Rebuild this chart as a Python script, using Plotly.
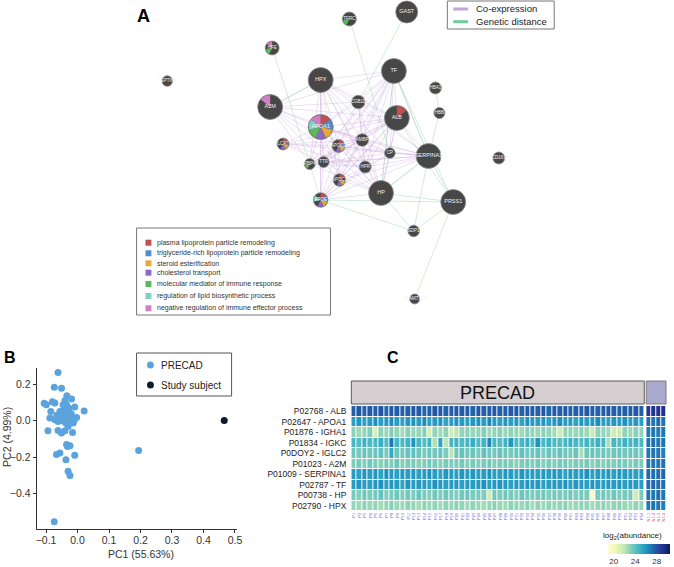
import math
import plotly.graph_objects as go

W, H = 674, 567
FONT = "Liberation Sans, Arial, sans-serif"

def fx(x):
    return x / W

def fy(y):
    return 1 - y / H

# ---------------- Panel A: network ----------------
node_names = ["GAST", "TFRC", "HFE", "SEPTIN9", "HPX", "TF", "HBA1", "HBB", "A2M", "SCGB1D1",
              "ALB", "APOA1", "LCAT", "APOC3", "AMBP", "CP", "SERPINA1", "RBP4", "TTR", "HPR",
              "APOC1", "HP", "APOE", "PRSS1", "CD163", "SDP1", "ADAMTS13"]
node_x = [410, 352, 274, 168, 323, 397, 439, 443, 272, 361,
          400, 323, 285, 341, 365, 393, 432, 312, 326, 368,
          342, 384, 323, 457, 503, 417, 418]
node_y = [12, 19, 48, 81, 80, 71, 88, 113, 107, 102,
          118, 127, 144, 146, 140, 153, 156, 164, 162, 167,
          180, 193, 200, 202, 158, 231, 299]
node_r = [11, 7, 7, 5.3, 12.5, 12.5, 6, 5.5, 12.5, 6.7,
          12.5, 12.5, 6, 6.5, 6.3, 5.3, 12.5, 5.5, 5.5, 6,
          6.3, 12.5, 7.3, 12.5, 6, 5.8, 5]
node_funcs = [[], [4], [4, 6], [], [], [], [], [], [6], [],
              [0], [0, 1, 2, 3, 4, 5, 6], [0, 2, 3], [0, 1, 2, 3], [], [], [], [4], [], [],
              [0, 2, 3], [], [0, 1, 2, 3, 5], [], [], [], []]

go_terms = ["plasma lipoprotein particle remodeling",
            "triglyceride-rich lipoprotein particle remodeling",
            "steroid esterification",
            "cholesterol transport",
            "molecular mediator of immune response",
            "regulation of lipid biosynthetic process",
            "negative regulation of immune effector process"]
go_colors = ["#c0504d", "#4f8fcf", "#e8a838", "#8c6bbf", "#5cb85c", "#7fd1c7", "#d17fc2"]

coexp_edges = [
    ("APOA1", "HPX"), ("APOA1", "TF"), ("APOA1", "ALB"), ("APOA1", "A2M"), ("APOA1", "SCGB1D1"),
    ("APOA1", "LCAT"), ("APOA1", "APOC3"), ("APOA1", "AMBP"), ("APOA1", "CP"), ("APOA1", "SERPINA1"),
    ("APOA1", "RBP4"), ("APOA1", "TTR"), ("APOA1", "HPR"), ("APOA1", "APOC1"), ("APOA1", "HP"), ("APOA1", "APOE"),
    ("HPX", "TF"), ("HPX", "ALB"), ("HPX", "A2M"), ("HPX", "SCGB1D1"), ("HPX", "APOC3"), ("HPX", "AMBP"),
    ("HPX", "CP"), ("HPX", "SERPINA1"), ("HPX", "RBP4"), ("HPX", "TTR"), ("HPX", "HPR"), ("HPX", "APOC1"),
    ("HPX", "HP"), ("HPX", "APOE"),
    ("TF", "ALB"), ("TF", "SCGB1D1"), ("TF", "APOC3"), ("TF", "AMBP"), ("TF", "CP"), ("TF", "SERPINA1"),
    ("TF", "RBP4"), ("TF", "TTR"), ("TF", "HPR"), ("TF", "APOC1"), ("TF", "HP"), ("TF", "APOE"), ("TF", "A2M"),
    ("ALB", "SCGB1D1"), ("ALB", "APOC3"), ("ALB", "AMBP"), ("ALB", "CP"), ("ALB", "SERPINA1"), ("ALB", "RBP4"),
    ("ALB", "TTR"), ("ALB", "HPR"), ("ALB", "APOC1"), ("ALB", "HP"), ("ALB", "APOE"), ("ALB", "LCAT"), ("ALB", "A2M"),
    ("A2M", "APOC3"), ("A2M", "AMBP"), ("A2M", "RBP4"), ("A2M", "TTR"), ("A2M", "HP"), ("A2M", "SCGB1D1"),
    ("SCGB1D1", "AMBP"), ("SCGB1D1", "APOC3"), ("SCGB1D1", "HPR"), ("SCGB1D1", "SERPINA1"), ("SCGB1D1", "HP"),
    ("SCGB1D1", "TTR"),
    ("LCAT", "APOC3"), ("LCAT", "TTR"), ("LCAT", "HPR"), ("LCAT", "SERPINA1"), ("LCAT", "AMBP"),
    ("APOC3", "AMBP"), ("APOC3", "CP"), ("APOC3", "SERPINA1"), ("APOC3", "HPR"), ("APOC3", "APOC1"),
    ("APOC3", "HP"), ("APOC3", "APOE"), ("APOC3", "TTR"), ("APOC3", "RBP4"),
    ("AMBP", "CP"), ("AMBP", "SERPINA1"), ("AMBP", "HPR"), ("AMBP", "HP"), ("AMBP", "TTR"), ("AMBP", "RBP4"),
    ("AMBP", "APOC1"), ("AMBP", "APOE"),
    ("CP", "SERPINA1"), ("CP", "HPR"), ("CP", "HP"), ("CP", "TTR"), ("CP", "APOE"),
    ("SERPINA1", "HPR"), ("SERPINA1", "HP"), ("SERPINA1", "TTR"), ("SERPINA1", "RBP4"), ("SERPINA1", "APOC1"),
    ("SERPINA1", "APOE"),
    ("RBP4", "TTR"), ("RBP4", "HPR"), ("RBP4", "APOE"), ("RBP4", "HP"),
    ("TTR", "HPR"), ("TTR", "APOC1"), ("TTR", "HP"), ("TTR", "APOE"),
    ("HPR", "HP"), ("HPR", "APOC1"), ("HPR", "APOE"),
    ("APOC1", "HP"), ("APOC1", "APOE"), ("HP", "APOE"),
]
genetic_edges = [
    ("TFRC", "CP"), ("GAST", "SCGB1D1"), ("HFE", "RBP4"), ("HBA1", "HBB"), ("HBB", "SERPINA1"),
    ("SERPINA1", "SDP1"), ("SERPINA1", "PRSS1"), ("HP", "PRSS1"), ("APOE", "PRSS1"), ("APOE", "SDP1"),
    ("HP", "SDP1"), ("PRSS1", "SDP1"), ("PRSS1", "ADAMTS13"), ("TF", "SERPINA1"), ("ALB", "PRSS1"),
    ("TF", "PRSS1"), ("HP", "SERPINA1"), ("A2M", "HPX"), ("TF", "HP"),
]
edge_legend = ["Co-expression", "Genetic distance"]
edge_colors = ["rgba(190,150,212,0.32)", "rgba(140,210,160,0.45)"]

# ---------------- Panel B: PCA ----------------
pc1_precad = [-0.062, -0.074, -0.051, -0.034, -0.019, -0.040, -0.046, -0.035, -0.009, 0.021,
              -0.085, -0.056, -0.072, -0.099, -0.088, -0.072, -0.060, -0.046, -0.035, -0.024,
              -0.030, -0.051, -0.038, -0.019, -0.003, -0.062, -0.014, -0.094, -0.062, -0.051,
              -0.040, -0.016, -0.030, -0.035, -0.024, -0.032, -0.056, -0.067, -0.009, -0.037,
              -0.030, -0.024, -0.074, 0.194, -0.080, -0.043, -0.027, -0.053, -0.020, -0.066,
              -0.041, -0.011, -0.106, -0.028]
pc2_precad = [0.265, 0.184, 0.179, 0.137, 0.119, 0.111, 0.088, 0.088, 0.075, 0.053,
              0.051, 0.051, 0.097, 0.088, 0.015, 0.005, 0.024, 0.033, 0.042, 0.027,
              0.005, 0.002, -0.013, 0.009, 0.018, -0.004, -0.013, -0.055, -0.053, -0.067,
              -0.055, -0.064, -0.031, -0.131, -0.137, -0.141, -0.177, -0.186, -0.190, -0.214,
              -0.277, -0.301, -0.555, -0.164, 0.105, 0.062, 0.047, 0.020, 0.038, 0.030,
              0.010, 0.002, 0.096, 0.070]
pc1_subject = [0.466]
pc2_subject = [0.002]
pca_groups = ["PRECAD", "Study subject"]
pca_colors = ["#5ba3dc", "#0f1c30"]
pc1_ticks = [-0.1, 0.0, 0.1, 0.2, 0.3, 0.4, 0.5]
pc2_ticks = [-0.4, -0.2, 0.0, 0.2]

# ---------------- Panel C: heatmap ----------------
row_labels = ["P02768 - ALB", "P02647 - APOA1", "P01876 - IGHA1", "P01834 - IGKC", "P0DOY2 - IGLC2",
              "P01023 - A2M", "P01009 - SERPINA1", "P02787 - TF", "P00738 - HP", "P02790 - HPX"]
precad_labels = [f"P{i}" for i in range(1, 55)]
subject_labels = ["N1-1", "N1-2", "N1-3", "N1-4"]

z_alb = [27.6, 27.8, 27.5, 27.7, 27.6, 27.9, 27.4, 27.8, 27.7,
         27.5, 27.6, 27.8, 27.7, 27.4, 27.6, 27.9, 27.7, 27.5,
         27.6, 27.8, 27.7, 27.6, 27.5, 27.8, 27.6, 27.7, 27.9,
         27.5, 27.6, 27.7, 27.8, 27.5, 27.6, 27.7, 27.6, 27.8,
         27.4, 27.7, 27.6, 27.8, 27.5, 27.7, 27.6, 27.9, 27.6,
         27.5, 27.7, 27.8, 27.6, 27.5, 27.7, 27.6, 27.8, 27.6]
z_apoa1 = [25.7, 26.0, 25.5, 25.8, 26.2, 25.6, 25.9, 26.3, 25.7,
           25.5, 25.9, 26.1, 25.7, 26.4, 25.6, 25.8, 26.0, 25.4,
           25.7, 26.1, 25.8, 25.6, 25.9, 26.2, 25.7, 26.5, 25.8,
           25.6, 26.0, 25.7, 25.9, 25.5, 26.1, 25.8, 25.7, 26.0,
           25.6, 25.9, 26.2, 25.7, 25.8, 25.5, 26.0, 25.7, 25.9,
           26.3, 25.7, 25.6, 25.9, 25.8, 26.1, 25.7, 25.9, 25.6]
z_igha1 = [23.1, 22.7, 22.9, 23.2, 21.2, 23.0, 22.8, 23.3, 22.9,
           22.6, 23.1, 22.9, 22.8, 23.2, 21.4, 22.9, 22.7, 23.0,
           21.5, 22.1, 22.9, 23.1, 22.8, 23.0, 23.2, 22.7, 22.9,
           23.1, 22.8, 23.0, 22.9, 22.7, 23.2, 22.9, 22.8, 23.1,
           22.9, 22.7, 21.6, 23.0, 22.9, 22.8, 23.1, 22.7, 21.8,
           23.0, 22.9, 22.7, 21.5, 21.7, 23.0, 22.8, 23.1, 22.9]
z_igkc = [24.7, 24.3, 24.9, 24.5, 24.6, 25.1, 24.4, 26.9, 24.7,
          24.5, 24.9, 26.1, 24.6, 24.3, 24.8, 22.3, 25.5, 22.1,
          24.6, 24.9, 24.4, 24.7, 25.1, 24.5, 24.8, 26.5, 24.6,
          24.3, 24.9, 25.9, 24.5, 24.7, 25.1, 24.4, 26.1, 24.6,
          24.9, 24.5, 24.3, 24.7, 25.0, 24.6, 24.4, 24.8, 24.5,
          24.9, 24.6, 22.5, 24.7, 24.4, 24.9, 24.6, 24.8, 24.5]
z_iglc2 = [23.7, 23.5, 23.9, 23.6, 23.8, 24.0, 23.5, 25.2, 23.7,
           23.6, 23.9, 24.1, 23.7, 23.5, 23.8, 23.6, 23.9, 23.4,
           22.1, 23.7, 23.9, 23.6, 23.8, 23.5, 24.0, 23.7, 23.6,
           23.9, 23.7, 23.5, 23.8, 24.0, 23.6, 23.7, 23.9, 23.5,
           23.8, 23.6, 23.9, 23.7, 23.5, 23.8, 22.4, 23.7, 23.9,
           23.6, 23.8, 23.5, 23.7, 23.9, 23.6, 23.8, 23.7, 23.5]
z_a2m = [23.3, 23.5, 23.2, 23.6, 23.4, 23.1, 23.5, 23.3, 23.7,
         23.2, 23.4, 23.5, 23.1, 23.3, 23.6, 23.4, 23.2, 23.5,
         23.3, 23.4, 23.6, 23.2, 23.5, 23.3, 23.4, 23.7, 23.2,
         23.4, 23.5, 23.3, 23.1, 23.4, 23.6, 23.3, 23.5, 23.2,
         23.4, 23.3, 23.5, 23.6, 23.2, 23.4, 23.3, 23.5, 23.1,
         23.4, 23.2, 23.5, 23.3, 23.6, 23.4, 23.2, 23.5, 23.3]
z_serpina1 = [25.8, 25.6, 26.0, 25.7, 25.9, 25.5, 26.1, 25.8, 25.6,
              25.9, 25.7, 26.0, 25.6, 25.8, 26.2, 25.7, 25.5, 25.9,
              25.8, 25.6, 26.0, 25.7, 25.9, 25.6, 25.8, 26.1, 25.7,
              25.6, 25.9, 25.8, 25.5, 26.0, 25.7, 25.8, 25.6, 25.9,
              25.7, 26.0, 25.8, 25.6, 25.9, 25.7, 25.8, 26.1, 25.6,
              25.8, 25.7, 25.9, 25.6, 26.0, 25.8, 25.7, 25.6, 25.9]
z_tf = [25.7, 26.0, 25.8, 25.6, 25.9, 26.1, 25.7, 25.9, 25.8,
        25.5, 26.0, 25.7, 25.9, 25.8, 25.6, 26.1, 25.9, 25.7,
        25.8, 26.0, 25.6, 25.9, 25.7, 25.8, 26.1, 25.7, 25.9,
        26.0, 25.8, 25.6, 25.9, 25.7, 26.0, 25.8, 25.9, 25.6,
        25.7, 25.9, 25.8, 26.1, 25.7, 25.9, 25.8, 25.6, 26.0,
        25.8, 25.7, 25.9, 25.8, 26.0, 25.7, 25.9, 25.8, 25.7]
z_hp = [23.5, 23.2, 23.7, 23.4, 23.6, 23.9, 23.3, 23.5, 23.7,
        23.3, 23.6, 23.4, 23.8, 23.5, 23.2, 23.6, 23.4, 23.7,
        23.5, 23.3, 23.6, 23.8, 23.4, 23.5, 23.3, 21.6, 23.6,
        23.4, 23.7, 23.5, 23.3, 23.8, 23.6, 23.4, 23.5, 23.7,
        23.3, 23.6, 23.4, 23.5, 23.7, 23.3, 23.6, 23.4, 19.6,
        23.5, 23.6, 23.3, 23.7, 23.4, 23.5, 23.6, 21.6, 23.4]
z_hpx = [22.9, 22.7, 23.1, 22.8, 23.0, 22.6, 22.9, 23.2, 22.8,
         22.7, 23.0, 22.9, 22.6, 23.1, 22.8, 22.9, 22.7, 23.0,
         22.8, 23.1, 22.9, 22.7, 23.0, 22.8, 22.6, 22.9, 23.1,
         22.8, 22.7, 23.0, 22.9, 22.8, 23.1, 22.6, 22.9, 22.7,
         23.0, 22.8, 22.9, 23.1, 22.7, 22.8, 23.0, 22.9, 22.6,
         22.8, 23.0, 22.7, 22.9, 23.1, 22.8, 22.7, 22.9, 22.8]
z_precad = [z_alb, z_apoa1, z_igha1, z_igkc, z_iglc2, z_a2m, z_serpina1, z_tf, z_hp, z_hpx]
z_subject = [
    [29.0, 29.2, 29.1, 29.3],
    [27.2, 27.0, 27.3, 27.1],
    [26.8, 26.9, 26.7, 26.9],
    [27.0, 27.2, 26.9, 27.1],
    [26.8, 27.0, 26.9, 26.7],
    [26.9, 27.0, 26.8, 27.1],
    [27.3, 27.1, 27.2, 27.4],
    [27.2, 27.4, 27.1, 27.3],
    [27.0, 26.8, 27.1, 26.9],
    [26.8, 27.0, 26.9, 26.7],
]
color_ticks = [20, 24, 28]
ylgnbu = [[0, "#ffffd9"], [0.125, "#edf8b1"], [0.25, "#c7e9b4"], [0.375, "#7fcdbb"],
          [0.5, "#41b6c4"], [0.625, "#1d91c0"], [0.75, "#225ea8"], [0.875, "#253494"], [1, "#081d58"]]

fig = go.Figure()

# ---- network edges
idx = {n: i for i, n in enumerate(node_names)}
for edges, col, nm in [(coexp_edges, edge_colors[0], edge_legend[0]), (genetic_edges, edge_colors[1], edge_legend[1])]:
    ex, ey = [], []
    for a, b in edges:
        ex += [node_x[idx[a]], node_x[idx[b]], None]
        ey += [node_y[idx[a]], node_y[idx[b]], None]
    fig.add_trace(go.Scatter(x=ex, y=ey, mode="lines", line=dict(color=col, width=0.9),
                             hoverinfo="skip", showlegend=False, name=nm, xaxis="x", yaxis="y"))

# ---- nodes
fig.add_trace(go.Scatter(x=node_x, y=node_y, mode="markers",
                         marker=dict(size=[2 * r for r in node_r], color="#474747", opacity=1,
                                     line=dict(color="#8e8e8e", width=0.8)),
                         hoverinfo="text", text=node_names, showlegend=False, xaxis="x", yaxis="y"))

# ---- pie wedges
for cx, cy, r, funcs in zip(node_x, node_y, node_r, node_funcs):
    for k in funcs:
        a0 = 2 * math.pi * k / 7
        a1 = 2 * math.pi * (k + 1) / 7
        xs, ys = [cx], [cy]
        for i in range(13):
            a = a0 + (a1 - a0) * i / 12
            xs.append(cx + (r - 0.4) * math.sin(a))
            ys.append(cy - (r - 0.4) * math.cos(a))
        xs.append(cx)
        ys.append(cy)
        fig.add_trace(go.Scatter(x=xs, y=ys, mode="lines", fill="toself", fillcolor=go_colors[k],
                                 line=dict(width=0, color=go_colors[k]), hoverinfo="skip",
                                 showlegend=False, xaxis="x", yaxis="y"))

# ---- node labels
fig.add_trace(go.Scatter(x=node_x, y=node_y, mode="text", text=node_names,
                         textfont=dict(size=[5.5 if r > 10 else 4.5 for r in node_r], color="#f2f2f2", family=FONT),
                         hoverinfo="skip", showlegend=False, xaxis="x", yaxis="y"))

# ---- PCA
fig.add_trace(go.Scatter(x=pc1_precad, y=pc2_precad, mode="markers", name=pca_groups[0],
                         marker=dict(size=7, color=pca_colors[0]), showlegend=False,
                         xaxis="x2", yaxis="y2"))
fig.add_trace(go.Scatter(x=pc1_subject, y=pc2_subject, mode="markers", name=pca_groups[1],
                         marker=dict(size=7, color=pca_colors[1]), showlegend=False,
                         xaxis="x2", yaxis="y2"))

# ---- heatmaps
fig.add_trace(go.Heatmap(z=z_precad, x=precad_labels, y=row_labels, coloraxis="coloraxis",
                         xgap=1, ygap=1, xaxis="x3", yaxis="y3"))
fig.add_trace(go.Heatmap(z=z_subject, x=subject_labels, y=row_labels, coloraxis="coloraxis",
                         xgap=1, ygap=1, xaxis="x4", yaxis="y3"))

shapes = []
annotations = []

# panel letters
for txt, x, y, s in [("A", 144, 16, 18), ("B", 9, 357, 16), ("C", 396, 357, 16)]:
    annotations.append(dict(text=f"<b>{txt}</b>", x=fx(x), y=fy(y), xref="paper", yref="paper",
                            showarrow=False, xanchor="center", yanchor="middle",
                            font=dict(size=s, color="#000", family=FONT)))

# edge legend
shapes.append(dict(type="rect", xref="paper", yref="paper", x0=fx(451), x1=fx(559), y0=fy(29), y1=fy(1),
                   line=dict(color="#777", width=1), fillcolor="white"))
for i, (nm, col) in enumerate(zip(edge_legend, ["#c9a3dc", "#6fcf9a"])):
    yy = 9 + i * 12.7
    shapes.append(dict(type="line", xref="paper", yref="paper", x0=fx(457), x1=fx(472), y0=fy(yy), y1=fy(yy),
                       line=dict(color=col, width=3)))
    annotations.append(dict(text=nm, x=fx(478), y=fy(yy), xref="paper", yref="paper", showarrow=False,
                            xanchor="left", yanchor="middle", font=dict(size=9.5, color="#222", family=FONT)))

# GO legend
shapes.append(dict(type="rect", xref="paper", yref="paper", x0=fx(137), x1=fx(333), y0=fy(315), y1=fy(228),
                   line=dict(color="#777", width=1), fillcolor="white"))
go_y = [242.7, 253.3, 263.3, 272.7, 284, 296, 308.3]
for nm, col, yy in zip(go_terms, go_colors, go_y):
    shapes.append(dict(type="rect", xref="paper", yref="paper", x0=fx(146), x1=fx(152), y0=fy(yy + 3), y1=fy(yy - 3),
                       line=dict(width=0), fillcolor=col))
    annotations.append(dict(text=nm, x=fx(156), y=fy(yy), xref="paper", yref="paper", showarrow=False,
                            xanchor="left", yanchor="middle", font=dict(size=7, color="#333", family=FONT)))

# PCA legend
shapes.append(dict(type="rect", xref="paper", yref="paper", x0=fx(137), x1=fx(233), y0=fy(396), y1=fy(353),
                   line=dict(color="#555", width=1), fillcolor="white"))
for i, (nm, col) in enumerate(zip(pca_groups, pca_colors)):
    yy = 365 + i * 20
    shapes.append(dict(type="circle", xref="paper", yref="paper", x0=fx(147.5), x1=fx(154.5),
                       y0=fy(yy + 3.5), y1=fy(yy - 3.5), line=dict(width=0), fillcolor=col))
    annotations.append(dict(text=nm, x=fx(160), y=fy(yy), xref="paper", yref="paper", showarrow=False,
                            xanchor="left", yanchor="middle", font=dict(size=10, color="#222", family=FONT)))

# PCA axis titles
annotations.append(dict(text="PC1 (55.63%)", x=fx(141), y=fy(554), xref="paper", yref="paper", showarrow=False,
                        xanchor="center", yanchor="middle", font=dict(size=10.5, color="#333", family=FONT)))
annotations.append(dict(text="PC2 (4.99%)", x=fx(6), y=fy(437), xref="paper", yref="paper", showarrow=False,
                        textangle=-90, xanchor="center", yanchor="middle",
                        font=dict(size=10.5, color="#333", family=FONT)))

# colorbar title
annotations.append(dict(text="log<sub>2</sub>(abundance)", x=fx(638), y=fy(536), xref="paper", yref="paper",
                        showarrow=False, xanchor="center", yanchor="middle",
                        font=dict(size=8, color="#222", family=FONT)))

# heatmap group bars
shapes.append(dict(type="rect", xref="x3 domain", yref="paper", x0=0, x1=1, y0=fy(404), y1=fy(381),
                   line=dict(color="#5a5a5a", width=1), fillcolor="#d6cfd1"))
shapes.append(dict(type="rect", xref="x4 domain", yref="paper", x0=0, x1=1, y0=fy(404), y1=fy(381),
                   line=dict(color="#7a7a7a", width=1), fillcolor="#a9a8cd"))
annotations.append(dict(text="PRECAD", xref="x3 domain", yref="paper", x=0.5, y=fy(392.5), showarrow=False,
                        xanchor="center", yanchor="middle", font=dict(size=18, color="#111", family=FONT)))

axis_hidden = dict(visible=False, showgrid=False, zeroline=False, fixedrange=True)

fig.update_layout(
    width=W, height=H, margin=dict(l=0, r=0, t=0, b=0),
    paper_bgcolor="white", plot_bgcolor="white",
    font=dict(family=FONT, color="#333"),
    showlegend=False,
    xaxis=dict(domain=[fx(130), fx(570)], range=[130, 570], **axis_hidden),
    yaxis=dict(domain=[fy(320), fy(0)], range=[320, 0], **axis_hidden),
    xaxis2=dict(domain=[fx(36), fx(238)], range=[-0.13, 0.505], anchor="y2",
                showline=True, linecolor="#333", linewidth=1, ticks="outside", ticklen=3, tickcolor="#333",
                showgrid=False, zeroline=False, tickvals=pc1_ticks, tickformat=".1f",
                ticklabelstandoff=-2, tickfont=dict(size=10.5, color="#333")),
    yaxis2=dict(domain=[fy(529), fy(368)], range=[-0.595, 0.29], anchor="x2",
                showline=True, linecolor="#333", linewidth=1, ticks="outside", ticklen=3, tickcolor="#333",
                showgrid=False, zeroline=False, tickvals=pc2_ticks, tickformat=".1f",
                tickfont=dict(size=10.5, color="#333")),
    xaxis3=dict(domain=[fx(354), fx(650)], anchor="y3", tickangle=-90, tickmode="array",
                tickvals=precad_labels, ticktext=precad_labels, ticks="", showgrid=False, zeroline=False,
                tickfont=dict(size=4, color="#6b6bd6")),
    xaxis4=dict(domain=[fx(652), fx(672)], anchor="y3", tickangle=-90, tickmode="array",
                tickvals=subject_labels, ticktext=subject_labels, ticks="", showgrid=False, zeroline=False,
                tickfont=dict(size=4, color="#e0408a")),
    yaxis3=dict(domain=[fy(511), fy(406)], anchor="x3", autorange="reversed", ticks="",
                showgrid=False, zeroline=False, ticklabelstandoff=4,
                tickfont=dict(size=8.5, color="#222")),
    coloraxis=dict(colorscale=ylgnbu, cmin=19, cmax=30.5,
                   colorbar=dict(orientation="h", x=fx(645), xanchor="center", y=fy(544), yanchor="top",
                                 len=62, lenmode="pixels", thickness=10, thicknessmode="pixels",
                                 tickvals=color_ticks, ticks="", outlinewidth=0, xpad=0, ypad=0,
                                 tickfont=dict(size=8, color="#333"))),
    shapes=shapes, annotations=annotations,
)

fig.write_html("out.html", config={"displayModeBar": False},
               post_script="document.body.style.margin='0';document.body.style.overflow='hidden';")
